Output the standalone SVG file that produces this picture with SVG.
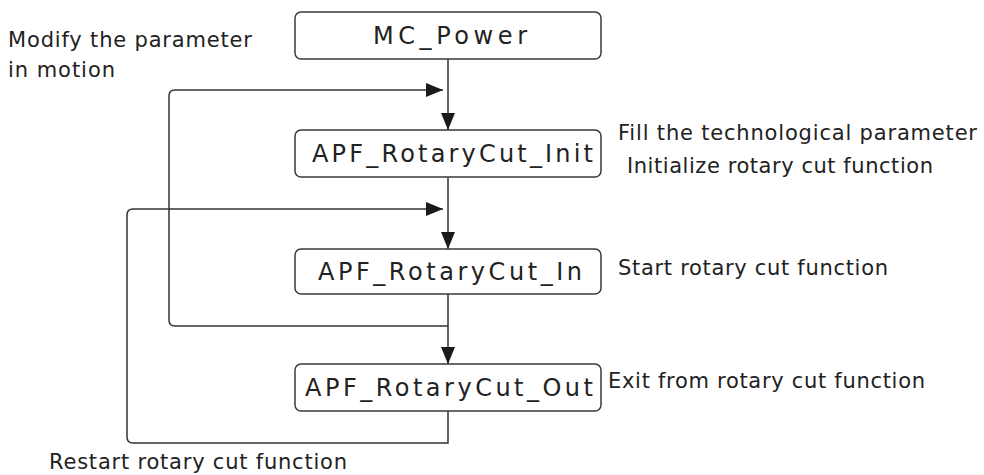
<svg xmlns="http://www.w3.org/2000/svg" width="984" height="475" viewBox="0 0 984 475">
<style>
.box{fill:#fff;stroke:#3a3a3a;stroke-width:1.5}
.lbl{font-family:"DejaVu Sans","Liberation Sans",sans-serif;font-size:24px;fill:#222}
.txt{font-family:"DejaVu Sans","Liberation Sans",sans-serif;font-size:21px;fill:#222}
.ln{fill:none;stroke:#333;stroke-width:1.5}
</style>
<defs>
<marker id="ah" viewBox="0 0 17 14" refX="17" refY="7" markerWidth="17" markerHeight="14" markerUnits="userSpaceOnUse" orient="auto">
<path d="M0,0 L17,7 L0,14 Z" fill="#1a1a1a"/>
</marker>
</defs>
<rect width="984" height="475" fill="#fff"/>
<g id="connectors">
<path class="ln" d="M448,59 V130" marker-end="url(#ah)"/>
<path class="ln" d="M448,177 V249" marker-end="url(#ah)"/>
<path class="ln" d="M448,294 V364" marker-end="url(#ah)"/>
<path class="ln" d="M448,326 H175 Q169,326 169,320 V96 Q169,90 175,90 H443" marker-end="url(#ah)"/>
<path class="ln" d="M448,411 V443 H133 Q127,443 127,437 V215 Q127,209 133,209 H443" marker-end="url(#ah)"/>
</g>
<g id="node-mc-power">
<rect class="box" x="295" y="12" width="306" height="47" rx="6"/>
<text class="lbl" x="373" y="44" textLength="154" lengthAdjust="spacing">MC_Power</text>
</g>
<g id="node-init">
<rect class="box" x="295" y="130" width="306" height="47" rx="6"/>
<text class="lbl" x="312" y="162" textLength="281" lengthAdjust="spacing">APF_RotaryCut_Init</text>
</g>
<g id="node-in">
<rect class="box" x="295" y="249" width="306" height="45" rx="6"/>
<text class="lbl" x="318" y="280" textLength="264" lengthAdjust="spacing">APF_RotaryCut_In</text>
</g>
<g id="node-out">
<rect class="box" x="295" y="364" width="306" height="47" rx="6"/>
<text class="lbl" x="305" y="396" textLength="288" lengthAdjust="spacing">APF_RotaryCut_Out</text>
</g>
<g id="labels">
<text class="txt" x="8" y="47" textLength="244" lengthAdjust="spacing">Modify the parameter</text>
<text class="txt" x="8" y="77" textLength="107" lengthAdjust="spacing">in motion</text>
<text class="txt" x="618" y="140" textLength="359" lengthAdjust="spacing">Fill the technological parameter</text>
<text class="txt" x="627" y="173" textLength="306" lengthAdjust="spacing">Initialize rotary cut function</text>
<text class="txt" x="618" y="275" textLength="270" lengthAdjust="spacing">Start rotary cut function</text>
<text class="txt" x="608" y="388" textLength="317" lengthAdjust="spacing">Exit from rotary cut function</text>
<text class="txt" x="49" y="469" textLength="298" lengthAdjust="spacing">Restart rotary cut function</text>
</g>
</svg>
